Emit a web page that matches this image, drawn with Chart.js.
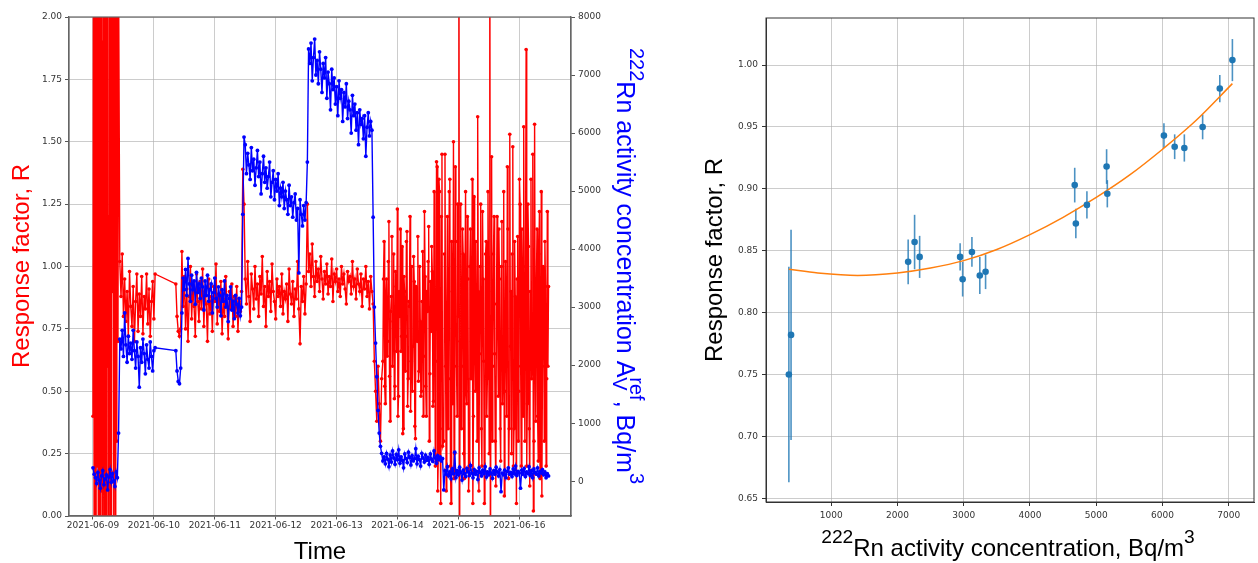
<!DOCTYPE html>
<html>
<head>
<meta charset="utf-8">
<script src="https://cdn.jsdelivr.net/npm/chart.js@4"></script>
<style>
html, body { margin: 0; padding: 0; background: #fff; }
#wrap { position: relative; width: 1258px; height: 563px; }
#left { position: absolute; left: 0; top: 0; }
#right { position: absolute; left: 660px; top: 0; }
</style>
</head>
<body>
<div id="wrap">
<canvas id="left" width="660" height="563"></canvas>
<canvas id="right" width="598" height="563"></canvas>
</div>
<script>
// left panel: time in days since 2021-06-09 00:00; samples spread evenly over each run
var dayLabels = ['2021-06-09', '2021-06-10', '2021-06-11', '2021-06-12', '2021-06-13', '2021-06-14', '2021-06-15', '2021-06-16'];
var rTicks = [0, 0.25, 0.5, 0.75, 1, 1.25, 1.5, 1.75, 2];
var rnTicks = [0, 1000, 2000, 3000, 4000, 5000, 6000, 7000, 8000];
var runStart = [0, 0.44, 1.36, 1.46, 2.46, 3.52, 4.60, 4.76, 5.76];
var runEnd = [0.42, 1.02, 1.44, 2.44, 3.50, 4.58, 4.74, 5.74, 7.48];

// reference 222Rn activity concentration, Bq/m3 (blue, right axis)
var rnRef = [
    [230, 120, 60, -40, 150, 20, -120, 90, 180, -60, 40, 110, -150, 70, 200, -20, 130, 10, -90, 160, 60, 830],
    [2450, 2280, 2600, 2150, 2900, 2350, 2050, 2500, 2200, 2380, 2100, 2600, 2250, 1950, 2400, 2150, 1620, 2300, 2050, 2450,
     2200, 1850, 2350, 2100, 1950, 2400, 2150, 1900, 2250, 2300],
    [2250, 1900, 1720, 1680, 1950],
    [2900, 3500, 3300, 3650, 3200, 3840, 3400, 3100, 3550, 3300, 3450, 3050, 3600, 3250, 3400, 3150, 3500, 3350, 2950, 3450,
     3200, 3550, 3100, 3300, 3400, 2900, 3250, 3500, 3150, 3000, 3350, 3200, 2850, 3300, 3100, 3450, 3000, 3200, 2750, 3150,
     3350, 2950, 3100, 2800, 3200, 3050, 2900, 3150, 2850, 3000],
    [4600, 5930, 5800, 5300, 5650, 5450, 5200, 5750, 5350, 5550, 5100, 5400, 5700, 5250, 5500, 4950, 5300, 5600, 5150, 5400,
     5050, 5250, 5500, 4900, 5150, 5350, 4850, 5200, 5000, 5300, 4750, 5050, 4900, 5150, 4700, 5000, 4850, 4600, 5100, 4750,
     4900, 4550, 4800, 4950, 4500, 4700, 3590, 4850, 4600, 4400, 4750, 4500, 4800],
    [5500, 7450, 7200, 7550, 6900, 7300, 7620, 7000, 7250, 6850, 7400, 7100, 6700, 7200, 6950, 7300, 6600, 7050, 6850, 6400,
     7100, 6750, 6950, 6500, 6800, 6300, 6900, 6600, 6750, 6200, 6700, 6450, 6850, 6250, 6550, 6400, 6000, 6650, 6300, 6500,
     6050, 6350, 5800, 6400, 6150, 6250, 5900, 6300, 5600, 6100, 6350, 5950, 6200, 6050],
    [4550, 3000, 2380, 1800, 1220, 830, 600, 480],
    [350, 420, 300, 480, 380, 250, 450, 330, 520, 400, 290, 460, 370, 540, 310, 420, 360, 230, 470, 390,
     320, 500, 410, 280, 440, 350, 390, 560, 300, 430, 370, 260, 480, 400, 330, 450, 360, 410, 290, 470,
     380, 340, 520, 400, 310, 440, 370, 420, 350, 390],
    [-150, 180, 120, 250, 90, 160, 40, 210, 130, 500, 60, 180, 110, 240, 150, 20, 190, 130, 80, 220,
     160, 100, 270, 140, 60, 200, 120, 170, 30, 230, 150, 90, 190, 130, 250, 70, 160, 110, 210, 140,
     50, 180, 120, 240, 160, 90, 200, -180, 140, 110, 190, 60, 170, 230, 120, 150, 80, 210, 130, 260,
     100, 170, 140, -120, 190, 120, 220, 80, 160, 130, 250, 100, 180, 60, 210, 150, 120, 230, 90, 170,
     140, 200, 110, 160, 60, 130, 90]
];

// response factor R (red, left axis)
var respR = [
    [0.4, 3.2, -0.8, 2.6, 1.75, -1.5, 4.0, 0.2, 2.8, -0.5, 1.6, 3.5, -1.0, 2.3, 0.1, 3.8, -0.6, 1.9, 2.9, -1.2, 1.3, 3.0,
     -0.3, 2.4, 0.6, 3.6, -1.1, 1.2, 2.7, 0.0, 3.3, -0.7, 2.1, 0.9, 4.2, -0.4, 1.55, 3.1, -0.9, 2.5, 0.3, 3.4, 0.7, 2.2],
    [1.02, 0.88, 1.05, 0.80, 0.95, 0.78, 0.90, 0.72, 0.98, 0.84, 0.76, 0.92, 0.70, 0.86, 0.97, 0.74, 0.89, 0.80, 0.96, 0.73,
     0.88, 0.83, 0.97, 0.77, 0.91, 0.72, 0.86, 0.94, 0.79, 0.97],
    [0.93, 0.80, 0.74, 0.72, 0.75],
    [1.06, 0.84, 0.96, 0.75, 0.91, 0.70, 0.88, 1.00, 0.79, 0.93, 0.84, 0.72, 0.97, 0.86, 0.78, 0.94, 0.83, 0.99, 0.76, 0.90,
     0.85, 0.70, 0.95, 0.81, 0.88, 0.74, 0.92, 0.86, 1.01, 0.77, 0.89, 0.82, 0.94, 0.73, 0.87, 0.80, 0.96, 0.84, 0.71, 0.90,
     0.83, 0.93, 0.76, 0.88, 0.80, 0.92, 0.74, 0.86, 0.82, 0.90],
    [1.39, 1.25, 0.95, 0.85, 1.02, 0.88, 0.78, 0.97, 0.91, 0.83, 1.00, 0.87, 0.93, 0.80, 0.96, 0.89, 1.04, 0.84, 0.92, 0.76,
     0.98, 0.88, 0.94, 0.82, 1.01, 0.90, 0.86, 0.79, 0.95, 0.88, 0.92, 0.84, 0.97, 0.81, 0.90, 0.87, 0.93, 0.78, 0.99, 0.89,
     0.85, 0.94, 0.80, 0.91, 0.87, 1.02, 0.83, 0.69, 0.92, 0.86, 0.96, 0.81, 0.93],
    [1.25, 0.98, 1.05, 0.92, 1.09, 0.96, 0.88, 1.02, 0.94, 0.99, 0.90, 1.04, 0.95, 0.87, 0.98, 0.93, 1.01, 0.89, 0.96, 0.92,
     1.03, 0.86, 0.97, 0.94, 0.99, 0.90, 0.95, 0.88, 1.00, 0.93, 0.97, 0.91, 0.85, 0.98, 0.94, 0.96, 0.89, 1.02, 0.92, 0.95,
     0.87, 0.99, 0.93, 0.90, 0.97, 0.84, 0.95, 0.91, 1.00, 0.88, 0.94, 0.83, 0.96, 0.90],
    [0.85, 0.62, 0.50, 0.38, 0.60, 0.45, 0.30, 0.55],
    [0.62, 0.95, 1.10, 0.52, 0.45, 0.88, 0.95, 0.64, 0.70, 1.02, 1.18, 0.56, 0.38, 0.82, 0.88, 1.12, 0.60, 0.78, 1.05, 0.47,
     0.52, 0.98, 0.92, 0.66, 1.23, 0.40, 0.48, 0.90, 0.80, 1.15, 0.66, 0.72, 1.08, 0.33, 0.35, 0.96, 0.90, 0.58, 0.72, 1.10,
     1.14, 0.44, 0.55, 0.86, 0.84, 1.20, 0.42, 0.62, 1.00, 0.50, 0.68, 1.04, 0.94, 0.36, 0.31, 0.92, 0.86, 0.70, 1.12, 0.54,
     0.58, 1.00, 0.78, 0.48, 0.50, 0.86, 1.06, 0.40, 0.64, 1.22, 0.96, 0.52, 0.40, 0.90, 0.82, 1.02, 1.16, 0.30, 0.57, 0.94,
     0.74, 1.08, 0.98, 0.44, 0.46, 1.30, 0.88, 0.20, 0.62, 1.42, 1.40, 0.10, 0.25, 1.35, 1.30, 0.35, 0.05, 1.20, 1.45, 0.28],
    [0.30, 1.05, 1.45, 0.60, 0.10, 0.85, 1.20, 0.35, 0.55, 1.30, 1.35, 0.20, 0.05, 1.10, 0.90, 0.45, 1.50, 0.15, 0.25, 1.40,
     1.10, 0.60, 0.40, 1.25, 0.80, 2.60, -0.30, 0.70, 1.25, 0.35, 0.60, 1.15, 1.05, 0.25, 0.15, 0.95, 1.30, 0.50, 0.45, 1.20,
     0.95, 0.10, 0.20, 1.00, 1.15, 0.55, 0.70, 1.35, 0.05, 0.40, 1.28, 0.75, 0.50, 1.10, 0.85, 0.30, 1.60, 0.90, 0.10, 0.65,
     1.00, 1.25, 0.35, 0.20, 1.22, 0.95, 0.62, 0.05, 0.18, 1.05, 1.10, 0.40, 0.55, 1.30, 0.90, 0.25, 2.70, -0.40, 0.80, 1.44,
     0.30, 0.60, 1.05, 1.20, 0.65, 0.30, 0.12, 0.85, 1.20, 0.75, 0.48, 1.15, 0.95, 0.35, 0.22, 1.00, 1.18, 0.45, 0.58, 1.30,
     0.08, 0.50, 1.02, 0.75, 0.40, 1.40, 1.15, 0.15, 0.35, 1.53, 0.68, 0.90, 0.25, 1.05, 1.48, 0.20, 0.35, 1.10, 0.88, 0.45,
     0.05, 0.95, 1.12, 0.30, 0.50, 1.35, 1.25, 0.60, 0.20, 1.15, 0.98, 0.40, 1.56, 0.65, 0.30, 1.00, 1.87, 0.20, 0.45, 1.25,
     1.08, 0.35, 0.12, 0.90, 1.35, 0.55, 0.60, 1.45, 0.02, 0.30, 1.57, 0.70, 0.38, 0.95, 1.15, 0.40, 0.22, 1.05, 1.22, 0.15,
     0.48, 1.30, 0.08, 0.60, 1.00, 0.85, 0.30, 1.10, 0.92, 0.20, 0.55, 1.22, 0.60, 0.92]
];

// right panel: R against reference concentration, with uncertainties and the fitted curve
var concTicks = [1000, 2000, 3000, 4000, 5000, 6000, 7000];
var respTicks = [0.65, 0.70, 0.75, 0.80, 0.85, 0.90, 0.95, 1.00];
var concX = [362, 395, 2162, 2259, 2335, 2946, 2984, 3124, 3243, 3330, 4675, 4692, 4859, 5156, 5167, 6021, 6183, 6329, 6605, 6864, 7054];
var respY = [0.750, 0.782, 0.841, 0.857, 0.845, 0.845, 0.827, 0.849, 0.830, 0.833, 0.903, 0.872, 0.887, 0.918, 0.896, 0.943, 0.934, 0.933, 0.950, 0.981, 1.004];
var respErr = [0.087, 0.085, 0.018, 0.022, 0.017, 0.011, 0.014, 0.012, 0.015, 0.014, 0.014, 0.012, 0.011, 0.014, 0.011, 0.010, 0.010, 0.011, 0.010, 0.011, 0.017];
var fitX = [362, 800, 1400, 2000, 2500, 3000, 3500, 4000, 4500, 5000, 5500, 6000, 6500, 7054];
var fitY = [0.835, 0.832, 0.830, 0.832, 0.836, 0.842, 0.851, 0.863, 0.877, 0.893, 0.911, 0.932, 0.955, 0.985];

Chart.defaults.font.family = 'DejaVu Sans';
Chart.defaults.font.size = 9;
Chart.defaults.color = '#333';

function toPoints(runs) {
    var pts = [];
    runs.forEach(function (run, k) {
        var step = run.length > 1 ? (runEnd[k] - runStart[k]) / (run.length - 1) : 0;
        run.forEach(function (v, i) {
            pts.push({ x: runStart[k] + i * step, y: v });
        });
    });
    return pts;
}

function fixedTicks(list) {
    return function (scale) {
        scale.ticks = list.map(function (v) { return { value: v }; });
    };
}

// text with raised / lowered pieces, centred on (cx, cy)
function drawRich(ctx, parts, cx, cy, angle, size, color) {
    var fam = '"Liberation Sans", Arial, sans-serif';
    var small = size * 0.8;
    ctx.save();
    ctx.translate(cx, cy);
    ctx.rotate(angle);
    ctx.fillStyle = color;
    ctx.textBaseline = 'middle';
    ctx.textAlign = 'left';
    var widths = parts.map(function (p) {
        if (p.t !== undefined) {
            ctx.font = size + 'px ' + fam;
            return ctx.measureText(p.t).width;
        }
        ctx.font = small + 'px ' + fam;
        return Math.max(p.sup ? ctx.measureText(p.sup).width : 0, p.sub ? ctx.measureText(p.sub).width : 0);
    });
    var total = widths.reduce(function (a, b) { return a + b; }, 0);
    var x = -total / 2;
    parts.forEach(function (p, i) {
        if (p.t !== undefined) {
            ctx.font = size + 'px ' + fam;
            ctx.fillText(p.t, x, 0);
        } else {
            ctx.font = small + 'px ' + fam;
            if (p.sup) ctx.fillText(p.sup, x, -size * 0.45);
            if (p.sub) ctx.fillText(p.sub, x, size * 0.22);
        }
        x += widths[i];
    });
    ctx.restore();
}

var boxPlugin = {
    id: 'box',
    afterDraw: function (chart, args, opts) {
        var a = chart.chartArea, ctx = chart.ctx;
        ctx.save();
        ctx.strokeStyle = opts.color;
        ctx.lineWidth = opts.width;
        ctx.strokeRect(a.left, a.top, a.right - a.left, a.bottom - a.top);
        ctx.restore();
        opts.labels.forEach(function (l) {
            drawRich(ctx, l.parts, l.x, l.y, l.angle, l.size, l.color);
        });
    }
};

var errorBars = {
    id: 'errorBars',
    beforeDatasetsDraw: function (chart) {
        var xs = chart.scales.x, ys = chart.scales.y, ctx = chart.ctx;
        ctx.save();
        ctx.strokeStyle = 'rgba(31,119,180,0.8)';
        ctx.lineWidth = 1.6;
        concX.forEach(function (c, i) {
            var px = xs.getPixelForValue(c);
            ctx.beginPath();
            ctx.moveTo(px, ys.getPixelForValue(respY[i] - respErr[i]));
            ctx.lineTo(px, ys.getPixelForValue(respY[i] + respErr[i]));
            ctx.stroke();
        });
        ctx.restore();
    }
};

var gridColor = 'rgba(176,176,176,0.65)';

new Chart(document.getElementById('left'), {
    type: 'line',
    data: {
        datasets: [{
            label: 'Rn',
            data: toPoints(rnRef),
            yAxisID: 'y1',
            borderColor: '#0000ff',
            backgroundColor: '#0000ff',
            borderWidth: 1.4,
            pointRadius: 1.9,
            pointBorderWidth: 0,
            tension: 0,
            order: 0
        }, {
            label: 'R',
            data: toPoints(respR),
            yAxisID: 'y',
            borderColor: '#ff0000',
            backgroundColor: '#ff0000',
            borderWidth: 1.4,
            pointRadius: 1.8,
            pointBorderWidth: 0,
            tension: 0,
            order: 1
        }]
    },
    options: {
        responsive: false,
        animation: false,
        events: [],
        layout: { padding: { top: 17, left: 0, right: 0, bottom: 0 } },
        plugins: {
            legend: { display: false },
            tooltip: { enabled: false },
            box: {
                color: '#666', width: 1.2,
                labels: [
                    { parts: [{ t: 'Response factor, R' }], x: 22, y: 266, angle: -Math.PI / 2, size: 24, color: '#ff0000' },
                    { parts: [{ sup: '222' }, { t: 'Rn activity concentration A' }, { sub: 'V', sup: 'ref' }, { t: ', Bq/m' }, { sup: '3' }],
                      x: 624, y: 266, angle: Math.PI / 2, size: 25, color: '#0000ff' },
                    { parts: [{ t: 'Time' }], x: 320, y: 552, angle: 0, size: 24, color: '#000' }
                ]
            }
        },
        scales: {
            x: {
                type: 'linear', min: -0.394, max: 7.849,
                afterFit: function (s) { s.height = 47; },
                afterBuildTicks: fixedTicks(dayLabels.map(function (d, i) { return i; })),
                ticks: {
                    autoSkip: false, maxRotation: 0, padding: 1,
                    callback: function (v) { return dayLabels[Math.round(v)]; }
                },
                grid: { color: gridColor, tickLength: 3.5, tickColor: '#555' },
                border: { color: '#666', width: 1.2 }
            },
            y: {
                position: 'left', min: 0, max: 2,
                afterFit: function (s) { s.width = 69; },
                afterBuildTicks: fixedTicks(rTicks),
                ticks: { padding: 3, callback: function (v) { return v.toFixed(2); } },
                grid: { color: gridColor, tickLength: 4, tickColor: '#555' },
                border: { color: '#666', width: 1.2 }
            },
            y1: {
                position: 'right', min: -600, max: 8000,
                afterFit: function (s) { s.width = 89; },
                afterBuildTicks: fixedTicks(rnTicks),
                ticks: { padding: 3, callback: function (v) { return String(v); } },
                grid: { drawOnChartArea: false, tickLength: 4, tickColor: '#555' },
                border: { color: '#666', width: 1.2 }
            }
        }
    },
    plugins: [boxPlugin]
});

new Chart(document.getElementById('right'), {
    type: 'scatter',
    data: {
        datasets: [{
            type: 'scatter',
            data: concX.map(function (c, i) { return { x: c, y: respY[i] }; }),
            backgroundColor: '#1f77b4',
            borderColor: '#1f77b4',
            pointRadius: 3.3,
            pointBorderWidth: 0,
            order: 0
        }, {
            type: 'line',
            data: fitX.map(function (c, i) { return { x: c, y: fitY[i] }; }),
            borderColor: '#ff7f0e',
            borderWidth: 1.5,
            pointRadius: 0,
            fill: false,
            cubicInterpolationMode: 'monotone',
            order: 1
        }]
    },
    options: {
        responsive: false,
        animation: false,
        events: [],
        layout: { padding: { top: 18, left: 0, right: 1, bottom: 0 } },
        plugins: {
            legend: { display: false },
            tooltip: { enabled: false },
            box: {
                color: '#333', width: 1,
                labels: [
                    { parts: [{ t: 'Response factor, R' }], x: 55, y: 260, angle: -Math.PI / 2, size: 24, color: '#000' },
                    { parts: [{ sup: '222' }, { t: 'Rn activity concentration, Bq/m' }, { sup: '3' }], x: 348, y: 549, angle: 0, size: 24, color: '#000' }
                ]
            }
        },
        scales: {
            x: {
                type: 'linear', min: 17, max: 7380,
                afterFit: function (s) { s.height = 61; },
                afterBuildTicks: fixedTicks(concTicks),
                ticks: { maxRotation: 0, padding: 4, callback: function (v) { return String(v); } },
                grid: { color: gridColor, tickLength: 4, tickColor: '#333' },
                border: { color: '#333', width: 1 }
            },
            y: {
                type: 'linear', min: 0.647, max: 1.038,
                afterFit: function (s) { s.width = 106; },
                afterBuildTicks: fixedTicks(respTicks),
                ticks: { padding: 4, callback: function (v) { return v.toFixed(2); } },
                grid: { color: gridColor, tickLength: 4, tickColor: '#333' },
                border: { color: '#333', width: 1 }
            }
        }
    },
    plugins: [errorBars, boxPlugin]
});
</script>
</body>
</html>
